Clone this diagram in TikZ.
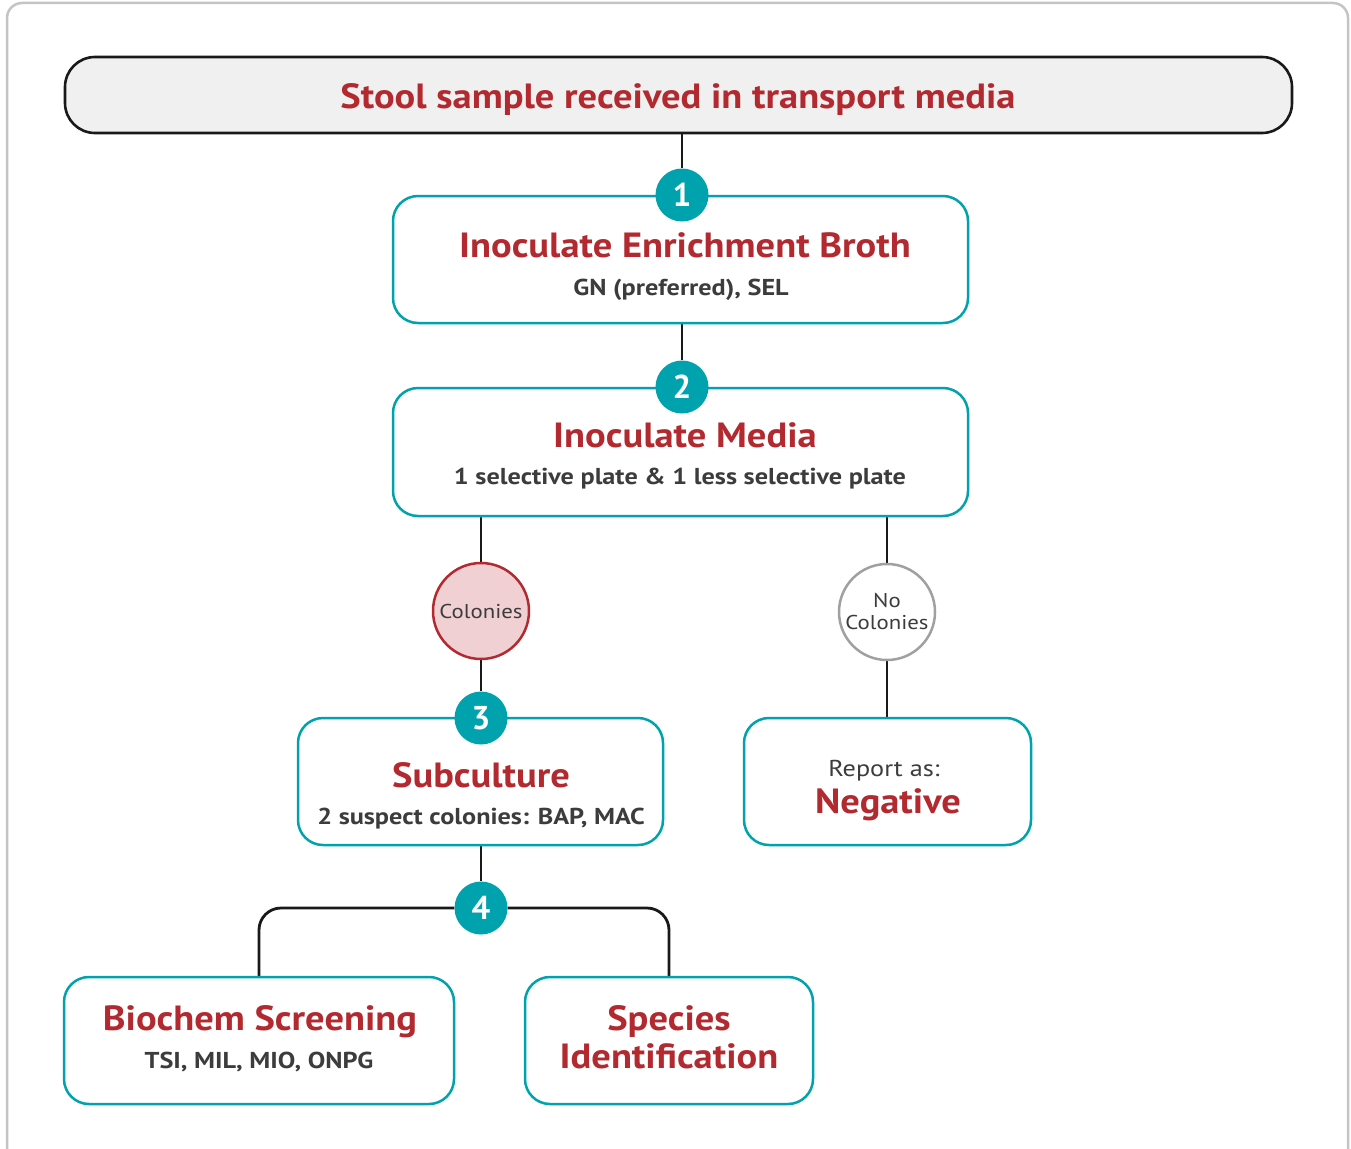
\documentclass[tikz,border=0pt]{standalone}
\usepackage{fontspec}
\setmainfont{PT Sans}
\newfontfamily\ttlfont[FakeStretch=1.1]{PT Sans}
\newfontfamily\subfont[FakeStretch=1.14]{PT Sans}
\usetikzlibrary{backgrounds}
\definecolor{redt}{HTML}{B22A30}
\definecolor{teal1}{HTML}{00A2AE}
\definecolor{txtgray}{HTML}{3C3C3C}
\definecolor{lightfill}{HTML}{F0F0F0}
\definecolor{pinkfill}{HTML}{F0D0D2}
\definecolor{bordergray}{HTML}{C4C4C4}
\definecolor{circgray}{HTML}{A0A0A0}
\tikzset{
  stepbox/.style={draw=teal1, line width=2.5pt, fill=white, rounded corners=25pt, inner sep=0pt},
  numcirc/.style={circle, fill=teal1, text=white, minimum size=53pt, inner sep=0pt, font=\fontsize{33}{33}\selectfont\bfseries},
  ttl/.style={text=redt, font=\ttlfont\fontsize{35}{40}\selectfont\bfseries, inner sep=0pt, anchor=base},
  sub/.style={text=txtgray, font=\subfont\fontsize{23}{28}\selectfont\bfseries, inner sep=0pt, anchor=base},
  conn/.style={draw=black!90, line width=2.8pt},
  decis/.style={circle, line width=2.5pt, minimum size=96pt, inner sep=0pt, text=txtgray, align=center,
    font=\subfont\fontsize{20}{22}\selectfont},
}
\begin{document}
\begin{tikzpicture}[x=1pt,y=-1pt]
\useasboundingbox (0,0) rectangle (1351,1148);
\clip (0,0) rectangle (1351,1148);
\draw[bordergray, line width=2.5pt, rounded corners=15pt] (7,3) rectangle (1348,1180);

% top box
\node[draw=black!90, line width=2.6pt, fill=lightfill, rounded corners=30pt,
  minimum width=1227pt, minimum height=76pt, inner sep=0pt] (top) at (678.5,95) {};
\node[ttl] (toptxt) at (678,108) {Stool sample received in transport media};

% step boxes
\node[stepbox, minimum width=575pt, minimum height=127pt] (b1) at (680.5,259.5) {};
\node[stepbox, minimum width=575pt, minimum height=128pt] (b2) at (680.5,452) {};
\node[stepbox, minimum width=365pt, minimum height=127pt] (b3) at (480.5,781.5) {};
\node[stepbox, minimum width=287pt, minimum height=127pt] (neg) at (887.5,781.5) {};
\node[stepbox, minimum width=390pt, minimum height=127pt] (bio) at (259,1040.5) {};
\node[stepbox, minimum width=288pt, minimum height=127pt] (spe) at (669,1040.5) {};

% texts
\node[ttl] (t1) at (685,257) {Inoculate Enrichment Broth};
\node[sub] (s1) at (681,295) {GN (preferred), SEL};
\node[ttl] (t2) at (685,447) {Inoculate Media};
\node[sub] (s2) at (680,484) {1 selective plate \& 1 less selective plate};
\node[ttl] (t3) at (481,787) {Subculture};
\node[sub] (s3) at (481,824) {2 suspect colonies: BAP, MAC};
\node[sub, font=\subfont\fontsize{23}{28}\selectfont] (rep) at (884,776) {Report as:};
\node[ttl] (negt) at (888,813) {Negative};
\node[ttl] (t4) at (260,1030) {Biochem Screening};
\node[sub] (s4) at (259,1068) {TSI, MIL, MIO, ONPG};
\node[ttl] (t5a) at (669,1030) {Species};
\node[ttl] (t5b) at (669,1068) {Identification};

% decision circles
\node[decis, draw=redt, fill=pinkfill] (col) at (481,611) {Colonies};
\node[decis, draw=circgray, fill=white] (nocol) at (887,612) {No\\Colonies};

% number circles
\node[numcirc] (c1) at (682,195) {1};
\node[numcirc] (c2) at (682,387) {2};
\node[numcirc] (c3) at (481,718) {3};
\node[numcirc] (c4) at (481,908) {4};

\begin{scope}[on background layer]
\draw[conn] (top.south -| c1) -- (c1);
\draw[conn] (c1) -- (c2);
\draw[conn] (b2.south -| col) -- (col);
\draw[conn] (col) -- (c3);
\draw[conn] (b2.south -| nocol) -- (nocol);
\draw[conn] (nocol) -- (nocol |- neg.north);
\draw[conn] (b3.south -| c4) -- (c4);
\draw[conn, rounded corners=22pt] (c4) -| (bio.north);
\draw[conn, rounded corners=22pt] (c4) -| (spe.north);
\end{scope}
\end{tikzpicture}
\end{document}
